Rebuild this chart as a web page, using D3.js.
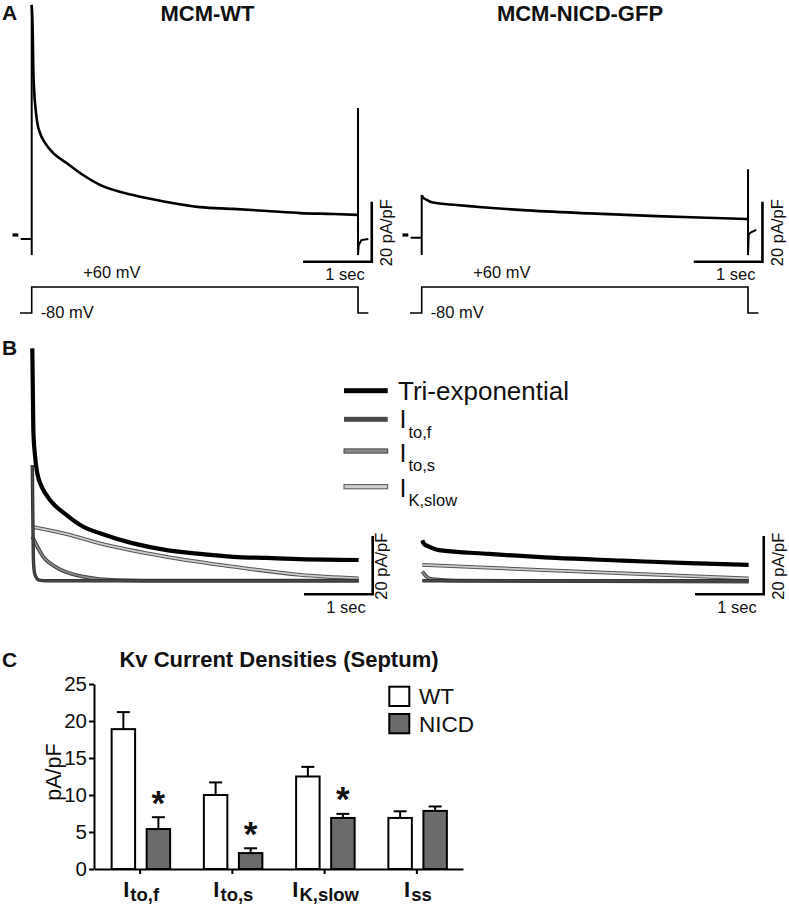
<!DOCTYPE html>
<html><head><meta charset="utf-8">
<script src="https://cdn.jsdelivr.net/npm/d3@7"></script>
<style>
body{margin:0;background:#fff}
svg{display:block}
text{font-family:"Liberation Sans",Arial,Helvetica,sans-serif;fill:#111}
</style>
</head><body>
<svg id="fig" width="789" height="909"></svg>
<script>
// ---------------- DATA ----------------
// Panel A: recorded currents, [time (s), current (pA/pF)]
const wtOnset   = [[-0.16,-1.3],[0,-1.3],[0,-6.7],[0,76.7]];
const wtDecay   = [[0,76.7],[0.015,67.3],[0.023,56],[0.038,47.3],[0.058,41.7],[0.082,37.3],[0.121,34],[0.194,30.7],[0.314,27.3],[0.509,24],[0.747,20],[0.994,16.7],[1.475,13.3],[1.97,11],[2.45,9.3],[2.93,8.7],[3.43,8],[3.91,7.3],[4.39,7],[4.75,6.7]];
const wtOffset  = [[4.75,6.7],[4.75,42.3],[4.75,-6.7],[4.76,-3.3],[4.8,-1.7],[4.9,-1.3]];

const nicdOnset  = [[-0.16,-0.9],[0,-0.9],[0,-6.7],[0,13.3]];
const nicdDecay  = [[0,13.3],[0.019,12.5],[0.073,11.7],[0.164,10.8],[0.51,10],[1.47,8.3],[2.45,7.2],[3.42,6.3],[4.39,5.6],[4.75,5.3]];
const nicdOffset = [[4.75,5.3],[4.75,21.9],[4.75,-6.7],[4.76,0.3],[4.8,1.0],[4.87,1.7]];

const zeroMarker = [[-0.28,0],[-0.195,0]];

// voltage protocol [time (s), mV]
const protocolTimes = [-0.17,0,0,4.75,4.75,4.9];
const protocolVolts = [-80,-80,60,60,-80,-80];

// Panel B: fitted components, [time (s), current (pA/pF)]
const wtTri    = [[0,79.7],[0.015,51.7],[0.039,43.1],[0.064,38],[0.098,34.5],[0.137,32.2],[0.258,27.7],[0.5,22.5],[0.742,18.5],[0.985,16.3],[1.47,12.8],[1.956,10.5],[2.44,9.2],[2.93,8.2],[3.41,7.8],[3.9,7.4],[4.75,7.1]];
const wtItof   = [[0,39.7],[0.008,22],[0.015,8],[0.03,3],[0.06,1],[0.1,0.2],[0.2,0],[4.75,0]];
const wtItos   = [[0,15.1],[0.16,8.2],[0.35,4.6],[0.74,1.4],[1.23,0.2],[2.0,0],[4.75,0]];
const wtIKslow = [[0,18.5],[0.5,16],[0.985,12.8],[1.956,8.2],[2.93,4.8],[3.9,2.0],[4.75,0.8]];

const nicdTri    = [[0,13.9],[0.025,12.6],[0.098,11.7],[0.243,10.5],[0.97,9.2],[1.94,7.8],[2.91,6.9],[3.88,6.0],[4.75,5.4]];
const nicdItof   = [[0,0],[4.75,0]];
const nicdItos   = [[0,3.1],[0.054,1.6],[0.145,0.5],[0.5,0],[4.75,-0.3]];
const nicdIKslow = [[0,5.4],[2.4,3.0],[4.75,0.8]];

const fitNames = ["Tri-exponential","to,f","to,s","K,slow"];

// scale bar sizes
const scaleBarSec = 1;
const scaleBarCurrent = 20;

// Panel C: bar chart
const categories = ["to,f","to,s","K,slow","ss"];
const groups = ["WT","NICD"];
const wtMeans   = [18.9,10.0,12.5,6.9];
const wtSEM     = [2.3,1.7,1.3,0.9];
const nicdMeans = [5.4,2.15,6.9,7.85];
const nicdSEM   = [1.6,0.65,0.55,0.6];
const significant = [true,true,true,false];
const yTicks = [0,5,10,15,20,25];

// ---------------- DRAWING ----------------
const svg = d3.select("#fig");
const FONT = '"Liberation Sans",Arial,Helvetica,sans-serif';
const PXS = 68.7; // px per second

function panelScales(ox, oy, pxPerUnit){
  const x = d3.scaleLinear().domain([0,1]).range([ox, ox+PXS]);
  const y = d3.scaleLinear().domain([0,1]).range([oy, oy-pxPerUnit]);
  return {x,y};
}
function lineGen(s, curve){
  return d3.line().x(d=>s.x(d[0])).y(d=>s.y(d[1])).curve(curve||d3.curveLinear);
}

function scaleBar(g, s, tCorner, iCorner, labelX, labelY){
  const path = d3.path();
  path.moveTo(s.x(tCorner-scaleBarSec), s.y(iCorner));
  path.lineTo(s.x(tCorner), s.y(iCorner));
  path.lineTo(s.x(tCorner), s.y(iCorner+scaleBarCurrent));
  g.append("path").attr("d",path.toString()).attr("fill","none").attr("stroke","#000").attr("stroke-width",2.6);
  g.append("text").attr("x",s.x(tCorner)-7).attr("y",labelY).attr("text-anchor","end")
    .attr("font-size",16.5).text(scaleBarSec+" sec");
  const cy = (s.y(iCorner)+s.y(iCorner+scaleBarCurrent))/2;
  g.append("text").attr("transform",`translate(${labelX},${cy+1}) rotate(-90)`)
    .attr("text-anchor","middle").attr("font-size",16.5).text(scaleBarCurrent+" pA/pF");
}

// ---- Panel A ----
function panelA(ox, oy, onset, decay, offset, tCorner, labelX, title, titleX){
  const g = svg.append("g");
  const s = panelScales(ox, oy, 3);
  g.append("text").attr("x",titleX).attr("y",20.5).attr("text-anchor","middle")
    .attr("font-size",22).attr("font-weight","bold").text(title);
  g.append("path").attr("d",lineGen(s)(onset)).attr("fill","none").attr("stroke","#000").attr("stroke-width",2);
  g.append("path").attr("d",lineGen(s,d3.curveMonotoneX)(decay)).attr("fill","none").attr("stroke","#000").attr("stroke-width",2.6);
  g.append("path").attr("d",lineGen(s)(offset)).attr("fill","none").attr("stroke","#000").attr("stroke-width",2);
  g.append("path").attr("d",lineGen(s)(zeroMarker)).attr("fill","none").attr("stroke","#000").attr("stroke-width",3.2);
  scaleBar(g, s, tCorner, -8.9, labelX, 280);
  // protocol
  const v = d3.scaleLinear().domain([-80,60]).range([313,287]);
  const proto = protocolTimes.map((t,i)=>[t,protocolVolts[i]]);
  g.append("path").attr("d",d3.line().x(d=>s.x(d[0])).y(d=>v(d[1]))(proto))
    .attr("fill","none").attr("stroke","#000").attr("stroke-width",1.6);
  g.append("text").attr("x",s.x(0.75)).attr("y",278).attr("font-size",16.5).text("+60 mV");
  g.append("text").attr("x",s.x(0.13)).attr("y",318).attr("font-size",16.5).text("-80 mV");
}
panelA(31.7, 235, wtOnset, wtDecay, wtOffset, 4.95, 392, "MCM-WT", 207.5);
panelA(421.7, 235, nicdOnset, nicdDecay, nicdOffset, 4.96, 783, "MCM-NICD-GFP", 580);

svg.append("text").attr("x",2).attr("y",20).attr("font-size",21).attr("font-weight","bold").text("A");
svg.append("text").attr("x",2).attr("y",355).attr("font-size",21).attr("font-weight","bold").text("B");
svg.append("text").attr("x",2).attr("y",667).attr("font-size",21).attr("font-weight","bold").text("C");

// ---- Panel B ----
const fitStyles = [
  {outer:"#000", ow:4.2, inner:null, iw:0},
  {outer:"#333", ow:3.4, inner:"#4a4a4a", iw:1.4},
  {outer:"#444", ow:3.8, inner:"#8a8a8a", iw:1.8},
  {outer:"#555", ow:3.8, inner:"#cdcdcd", iw:1.8}
];
function drawFit(g, s, data, st, curve){
  const d = lineGen(s, curve)(data);
  g.append("path").attr("d",d).attr("fill","none").attr("stroke",st.outer).attr("stroke-width",st.ow).attr("stroke-linecap","butt");
  if(st.inner) g.append("path").attr("d",d).attr("fill","none").attr("stroke",st.inner).attr("stroke-width",st.iw);
}
function panelB(ox, series, tCorner, labelX){
  const g = svg.append("g");
  const s = panelScales(ox, 580.7, 2.915);
  [3,2,1,0].forEach(i=>drawFit(g, s, series[i], fitStyles[i], d3.curveMonotoneX));
  scaleBar(g, s, tCorner, -4.67, labelX, 613);
}
panelB(32.3, [wtTri, wtItof, wtItos, wtIKslow], 4.955, 387);
panelB(422.3, [nicdTri, nicdItof, nicdItos, nicdIKslow], 4.97, 784);

// legend for B
const legY = [390.7, 419.3, 451, 486.7];
const legendG = svg.append("g");
fitNames.forEach((name,i)=>{
  const st = fitStyles[i];
  const y = legY[i];
  const w = i<2 ? 5 : 4.2;
  legendG.append("rect").attr("x",344).attr("y",y-w/2).attr("width",43.7).attr("height",w)
    .attr("fill", st.inner || st.outer).attr("stroke", i<2 ? "none" : st.outer).attr("stroke-width",1);
  if(i===0){
    legendG.append("text").attr("x",398).attr("y",400).attr("font-size",26).text(name);
  } else {
    const base = [0,428.3,461.7,496.7][i];
    const t = legendG.append("text").attr("x",399.5).attr("y",base);
    t.append("tspan").attr("font-size",25).text("I");
    t.append("tspan").attr("font-size",16.5).attr("dx",2).attr("dy",9.5).text(name);
  }
});

// ---- Panel C ----
const gC = svg.append("g");
const yC = d3.scaleLinear().domain([0,25]).range([869,684]);
const xC = d3.scaleBand().domain(categories).range([94,463]);
const xSub = d3.scaleBand().domain(groups).range([-28.5,30]).paddingInner(0.33);
const bw = xSub.bandwidth();

gC.append("text").attr("x",279).attr("y",667).attr("text-anchor","middle")
  .attr("font-size",22).attr("font-weight","bold").text("Kv Current Densities (Septum)");

const rows = categories.map((c,i)=>({c, i, vals:[
  {g:"WT", m:wtMeans[i], e:wtSEM[i], fill:"#fff"},
  {g:"NICD", m:nicdMeans[i], e:nicdSEM[i], fill:"#6b6b6b"}
]}));

rows.forEach(r=>{
  const cx = xC(r.c) + xC.bandwidth()/2;
  r.vals.forEach(v=>{
    const x0 = cx + xSub(v.g);
    const xm = x0 + bw/2;
    gC.append("line").attr("x1",xm).attr("x2",xm).attr("y1",yC(v.m)).attr("y2",yC(v.m+v.e))
      .attr("stroke","#000").attr("stroke-width",2);
    gC.append("line").attr("x1",xm-6.5).attr("x2",xm+6.5).attr("y1",yC(v.m+v.e)).attr("y2",yC(v.m+v.e))
      .attr("stroke","#000").attr("stroke-width",2);
    gC.append("rect").attr("x",x0).attr("y",yC(v.m)).attr("width",bw).attr("height",yC(0)-yC(v.m))
      .attr("fill",v.fill).attr("stroke","#000").attr("stroke-width",2);
  });
  if(significant[r.i]){
    const v = r.vals[1];
    const xm = cx + xSub("NICD") + bw/2;
    gC.append("text").attr("x",xm).attr("y",yC(v.m+v.e)-2.5).attr("text-anchor","middle")
      .attr("font-size",35).attr("font-weight","bold").text("*");
  }
});

const yAxis = gC.append("g").attr("transform","translate(94,0)")
  .call(d3.axisLeft(yC).tickValues(yTicks).tickSize(5).tickSizeOuter(0).tickPadding(2));
const xAxis = gC.append("g").attr("transform","translate(0,869)")
  .call(d3.axisBottom(xC).tickSize(5).tickSizeOuter(0).tickFormat(""));
[yAxis,xAxis].forEach(a=>{
  a.select(".domain").attr("stroke","#000").attr("stroke-width",2);
  a.selectAll(".tick line").attr("stroke","#000").attr("stroke-width",2);
  a.selectAll("text").attr("font-family",FONT).attr("font-size",20.5).attr("fill","#111");
});

categories.forEach(c=>{
  const cx = xC(c) + xC.bandwidth()/2;
  const t = gC.append("text").attr("x",cx+1).attr("y",896.7).attr("text-anchor","middle").attr("font-weight","bold");
  t.append("tspan").attr("font-size",22).text("I");
  t.append("tspan").attr("font-size",18.5).attr("dx",1).attr("dy",4).text(c);
});

gC.append("text").attr("transform","translate(61,772) rotate(-90)").attr("text-anchor","middle")
  .attr("font-size",21.5).text("pA/pF");

// legend C
groups.forEach((gname,i)=>{
  const y0 = [686.7,714][i];
  gC.append("rect").attr("x",389.3).attr("y",y0).attr("width",20).attr("height",19.3)
    .attr("fill", i===0 ? "#fff" : "#6b6b6b").attr("stroke","#000").attr("stroke-width",2);
  gC.append("text").attr("x",419).attr("y",y0+17.5).attr("font-size",22.5).text(gname);
});
</script>
</body></html>
